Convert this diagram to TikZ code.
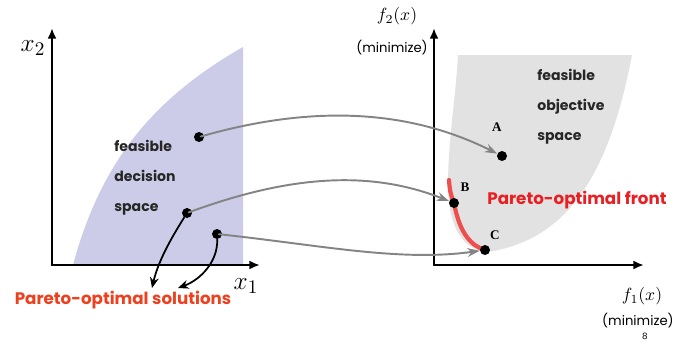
\documentclass[tikz,border=0pt]{standalone}
\usepackage{fontspec}
\setmainfont{Liberation Serif}
\newfontfamily\gothic{Poppins}
\usetikzlibrary{arrows.meta}

\definecolor{decblue}{RGB}{204,204,232}
\definecolor{objgray}{RGB}{226,226,226}
\definecolor{mapgray}{RGB}{132,132,132}
\definecolor{frontred}{RGB}{238,78,78}
\definecolor{solred}{RGB}{236,64,30}
\definecolor{labred}{RGB}{232,32,36}

\begin{document}
\begin{tikzpicture}[x=0.02cm, y=-0.02cm, line join=round, line cap=round,
    dot/.style={circle, fill=black, inner sep=0pt, minimum size=0.2cm},
    axis/.style={line width=1.2pt, -{Latex[length=6pt, width=5pt]}},
    maparrow/.style={mapgray, line width=1.1pt, -{Stealth[length=7pt, width=5pt]}, shorten <=-2pt},
    pickarrow/.style={black, line width=1pt, -{Stealth[length=6pt, width=5pt]}},
    spacetext/.style={font=\gothic\bfseries\fontsize{8}{17}\selectfont, align=left, text=black!85, inner sep=0pt},
    redtext/.style={font=\gothic\bfseries\fontsize{9.5}{11}\selectfont, inner sep=0pt},
    pointlabel/.style={font=\bfseries\fontsize{7.5}{9}\selectfont, inner sep=0pt},
    minlabel/.style={font=\gothic\fontsize{7.5}{9}\selectfont, inner sep=0pt}]
    \useasboundingbox (0,0) rectangle (676,353);

    % Decision space (left)
    \begin{scope}
        \fill[decblue] (73,265) .. controls (100,165) and (150,100) .. (243,47) -- (243,265) -- cycle;
        \draw[axis] (52,265) -- (52,28);
        \draw[axis] (52,265) -- (260,265);
        \node (xtwo) at (33,48) {\fontsize{15}{15}\selectfont$x_2$};
        \node (xone) at (246,286) {\fontsize{15}{15}\selectfont$x_1$};
        \node[spacetext, anchor=north west] (dspace) at (114,140) {feasible\\decision\\space};
        \node[dot] (p1) at (199,137) {};
        \node[dot] (p2) at (187,213) {};
        \node[dot] (p3) at (217,234) {};
        \node[redtext, text=solred] (sol) at (123,300) {Pareto-optimal solutions};
        \coordinate (s1) at (152,288);
        \coordinate (s2) at (178,288);
    \end{scope}

    % Objective space (right)
    \begin{scope}
        \fill[objgray] (458,55) -- (632,55) .. controls (610,170) and (570,240) .. (487,252)
            .. controls (462,250) and (448,225) .. (448,185) .. controls (448,140) and (456,95) .. (458,55) -- cycle;
        \draw[axis] (434,265) -- (434,28);
        \draw[axis] (434,265) -- (644,265);
        \node (ftwo) at (397,16) {$f_2(x)$};
        \node[minlabel] (mintwo) at (392,48) {(minimize)};
        \node (fone) at (642,296) {$f_1(x)$};
        \node[minlabel, anchor=east] (minone) at (674,321) {(minimize)};
        \node[minlabel, font=\gothic\fontsize{5}{6}\selectfont] (pagenum) at (645,336) {8};
        \node[spacetext, anchor=north west] (ospace) at (537,69) {feasible\\objective\\space};
        % Pareto-optimal front
        \draw[frontred, line width=2.4pt] (449,180) .. controls (450,192) .. (454,203)
            .. controls (460,235) and (472,246) .. (485,250);
        \node[dot] (a) at (502,156) {};
        \node[dot] (b) at (454,203) {};
        \node[dot] (c) at (485,250) {};
        \node[pointlabel] (alab) at (497,127) {A};
        \node[pointlabel] (blab) at (465,187) {B};
        \node[pointlabel] (clab) at (495,235) {C};
        \node[redtext, text=labred, anchor=west] (front) at (487,200) {Pareto-optimal front};
    \end{scope}

    % Mapping from decision space to objective space
    \draw[maparrow] (p1) .. controls (300,108) and (400,105) .. (a);
    \draw[maparrow] (p2) .. controls (290,175) and (370,170) .. (b);
    \draw[maparrow] (p3) .. controls (320,245) and (400,262) .. (c);

    % Pointers to the Pareto-optimal solutions
    \draw[pickarrow] (p2) .. controls (170,240) and (158,262) .. (s1);
    \draw[pickarrow] (p3) .. controls (218,262) and (200,280) .. (s2);
\end{tikzpicture}
\end{document}
